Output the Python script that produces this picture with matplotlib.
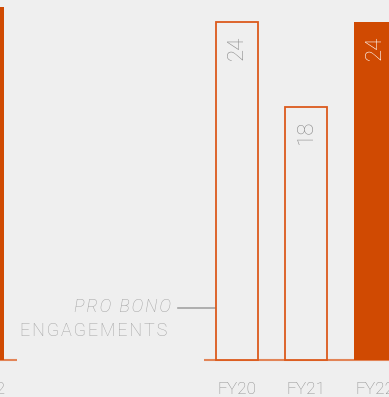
import matplotlib
matplotlib.use("Agg")
import matplotlib.pyplot as plt
from matplotlib import font_manager

# ---- data ----
categories = ["FY20", "FY21", "FY22"]
values = [24, 18, 24]
filled = [False, False, True]
prev_category = "FY22"   # neighbouring (cut-off) chart on the left
prev_value = 25.1
axis_label_1 = "PRO BONO"
axis_label_2 = "ENGAGEMENTS"

# ---- style ----
BG = "#efefef"
ORANGE = "#d04a02"
OUTLINE = "#dc5a1c"
BASE = "#e28457"
GRAY = "#8c8c8c"
LGRAY = "#a3a3a3"

fams = {f.name for f in font_manager.fontManager.ttflist}
FONT = "Roboto" if "Roboto" in fams else "DejaVu Sans"
plt.rcParams["font.family"] = [FONT, "DejaVu Sans"]


def track(s):
    """letter-spaced text (hair spaces between the letters)"""
    return "\u200a".join(s)


W, H = 389, 397
fig = plt.figure(figsize=(W / 100, H / 100), dpi=100, facecolor=BG)
ax = fig.add_axes([0, 0, 1, 1], facecolor=BG)

px_per_cat = 69.0
x0_px = 237.0
px_per_unit = 338.0 / 24
base_px = 360.0

ax.set_xlim(-x0_px / px_per_cat, (W - x0_px) / px_per_cat)
ax.set_ylim(-(H - base_px) / px_per_unit, base_px / px_per_unit)
ax.axis("off")

bw = 42 / px_per_cat
xs = list(range(len(categories)))

# previous chart's partial bar
prev_w = 0.5
prev_x = (3.5 - x0_px) / px_per_cat - prev_w / 2
ax.bar([prev_x], [prev_value], width=prev_w, color=ORANGE, linewidth=0, zorder=2)
ax.plot([ax.get_xlim()[0], prev_x + prev_w / 2 + 13 / px_per_cat], [0, 0],
        color=BASE, lw=1.5, zorder=1, solid_capstyle="butt")

# baseline for main group
ax.plot([xs[0] - bw / 2 - 12 / px_per_cat, ax.get_xlim()[1]], [0, 0],
        color=BASE, lw=1.5, zorder=1, solid_capstyle="butt")

for x, v, f in zip(xs, values, filled):
    if f:
        ax.bar([x], [v], width=bw, color=ORANGE, linewidth=0, zorder=2)
        tc = "white"
    else:
        ax.bar([x], [v], width=bw, facecolor=BG, edgecolor=OUTLINE,
               linewidth=1.3, zorder=2)
        tc = GRAY
    ax.annotate(str(v), (x, v), xytext=(0, -9.5), textcoords="offset points",
                rotation=90, ha="center", va="top", fontsize=16,
                fontweight="light", color=tc, zorder=3)

# category labels
for x, c in zip(xs, categories):
    ax.annotate(c, (x, 0), xytext=(0, -21.5), textcoords="offset points",
                ha="center", va="center", fontsize=12.4, fontweight="light",
                color=GRAY, annotation_clip=False)
ax.annotate(prev_category, (prev_x, 0), xytext=(0, -21.5),
            textcoords="offset points", ha="center", va="center",
            fontsize=12.4, fontweight="light", color=GRAY,
            annotation_clip=False)

# axis annotation
lab_y = (base_px - 307.5) / px_per_unit
ax.text((171 - x0_px) / px_per_cat, lab_y, track(axis_label_1), ha="right",
        va="center", fontsize=13, fontstyle="italic", fontweight="light",
        color=LGRAY)
ax.text((167 - x0_px) / px_per_cat, (base_px - 330.5) / px_per_unit,
        track(axis_label_2), ha="right", va="center", fontsize=13,
        fontweight="light", color=LGRAY)
ax.plot([(178 - x0_px) / px_per_cat, xs[0] - bw / 2], [lab_y, lab_y],
        color=LGRAY, lw=1.2, zorder=1)

fig.savefig("out.png", dpi=100, facecolor=BG)
